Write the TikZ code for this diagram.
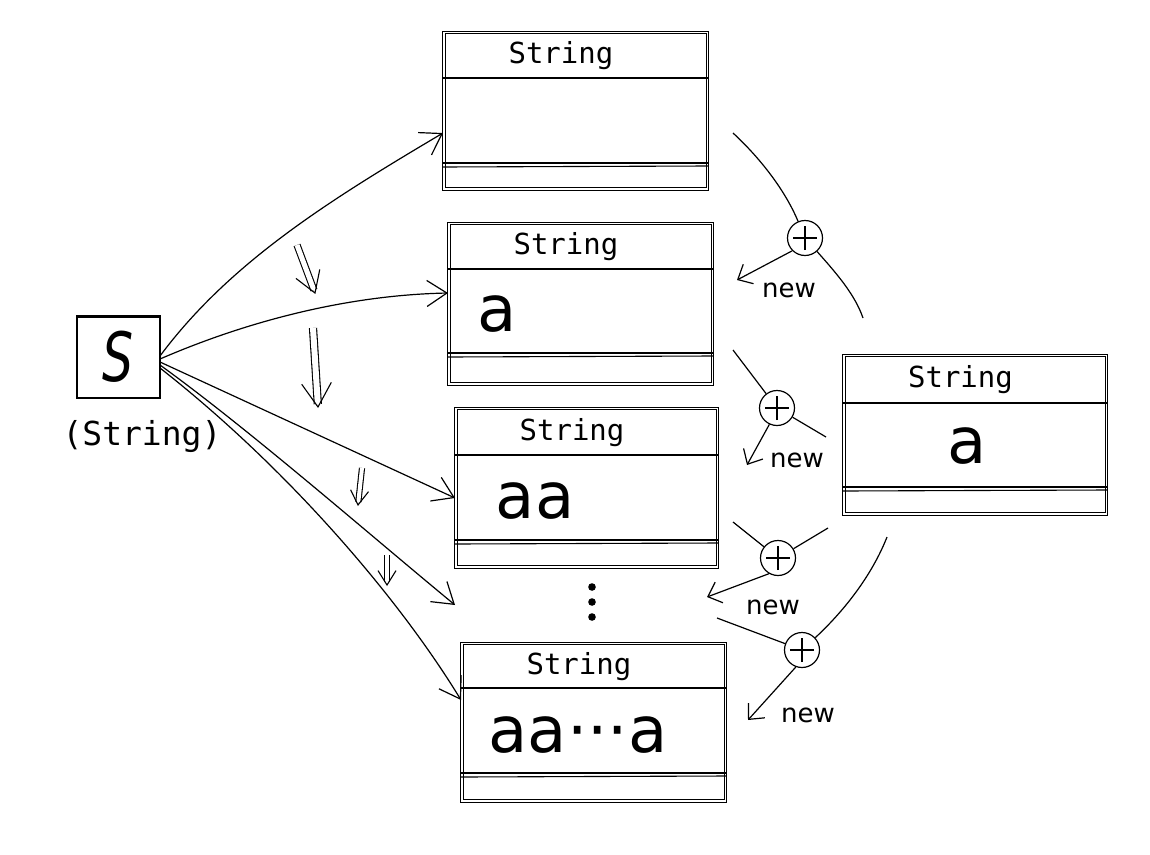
\documentclass[tikz,border=0pt]{standalone}
\usepackage{fontspec}
\setmainfont{DejaVu Sans}
\newfontfamily\monof{DejaVu Sans Mono}
\usetikzlibrary{arrows.meta,calc}
\newcommand\strbox[7]{%
  \node[sbox, minimum width={#4-#2}, minimum height={#5-#3}] (#1) at ({(#2+#4)/2},{(#3+#5)/2}) {};
  \draw[bl] (#1.north west) rectangle (#1.south east);
  \draw[bl] ([xshift=2.5pt,yshift=-2pt]#1.north west) rectangle ([xshift=-1.5pt,yshift=2.5pt]#1.south east);
  \draw[sline] (#2,#6) -- (#4,#6);
  \draw[sline] (#2,#7) -- (#4,#7);
  \draw[bl] (#2,#7+4) -- (#4,#7+3);
  \node[boxtitle] (#1t) at ({#2+0.445*(#4-#2)},{(#3+#6)/2+1}) {String};
}
% #1 start, #2 tip, #3 head arm length, #4 shaft gap
\newcommand\dblarrow[4]{%
  \draw[dshaft, double distance=#4] (#1) -- (#2);
  \draw[line width=1.1pt] ($(#2)!#3!32:(#1)$) -- (#2) -- ($(#2)!#3!-32:(#1)$);
}
\begin{document}
\begin{tikzpicture}[x=1pt,y=-1pt,
  sbox/.style={inner sep=0, rectangle},
  bl/.style={line width=1.1pt},
  sline/.style={line width=1.5pt},
  boxtitle/.style={font=\monof\fontsize{29}{29}\selectfont, inner sep=0},
  bigtxt/.style={font=\fontsize{64}{64}\selectfont, inner sep=0},
  newl/.style={font=\fontsize{26}{26}\selectfont, inner sep=0},
  arr/.style={line width=1.2pt, -{Straight Barb[length=20pt,width=26pt]}},
  arrn/.style={line width=1.2pt, -{Straight Barb[length=12pt,width=22pt]}},
  ln/.style={line width=1.2pt},
  dshaft/.style={double, line width=1.1pt, shorten >=3pt},
  plus/.style={draw, circle, minimum size=35pt, inner sep=0, line width=1.2pt,
    path picture={
      \draw[line width=1.2pt] ([yshift=-12pt]path picture bounding box.center) -- ([yshift=12pt]path picture bounding box.center);
      \draw[line width=1.2pt] ([xshift=-12pt]path picture bounding box.center) -- ([xshift=12pt]path picture bounding box.center);
    }}
]
\fill[white] (0,0) rectangle (1150,854);
\useasboundingbox (0,0) rectangle (1150,854);

% string boxes
\strbox{b1}{443}{32}{708}{190}{78}{163}
\strbox{b2}{448}{223}{713}{385}{269}{353}
\strbox{b3}{455}{408}{718}{568}{455}{540}
\strbox{b5}{461}{643}{726}{802}{688}{773}
\strbox{br}{843}{355}{1107}{515}{403}{487}

\node[bigtxt] (c2) at (497,314) {a};
\node[bigtxt] (c3) at (535,501) {aa};
\node[bigtxt] (c5) at (578,735) {aa···a};
\node[bigtxt] (cr) at (967,446) {a};

% vertical dots
\fill (592,587) circle (3.8);
\fill (592,602) circle (3.8);
\fill (592,617) circle (3.8);

% variable s
\node[draw, line width=2pt, minimum width=83pt, minimum height=82pt, inner sep=0] (S) at (118,357) {};
\draw[bl] ([xshift=2pt,yshift=-2pt]S.north west) rectangle ([xshift=-1pt,yshift=1.5pt]S.south east);
\node[font=\itshape\fontsize{68}{68}\selectfont, inner sep=0, xscale=0.72] (Sl) at (S.center) {S};
\node[font=\monof\fontsize{33}{33}\selectfont, inner sep=0] (Stype) at (142,437) {(String)};

% references from s
\coordinate (in1) at (443,133);
\coordinate (in2) at (448,293);
\coordinate (in3) at (455,498);
\coordinate (dotsin) at (455,605);
\coordinate (in5) at (461,700);
\coordinate (s1) at (160,356);
\coordinate (s2) at (160,359);
\coordinate (s3) at (160,362);
\coordinate (s4) at (160,365);
\coordinate (s5) at (160,368);
\draw[arr] (s1) .. controls (230,262) and (330,200) .. (in1);
\draw[arr] (s2) .. controls (250,320) and (350,295) .. (in2);
\draw[arr] (s3) -- (in3);
\draw[arr] (s4) .. controls (250,430) and (370,535) .. (dotsin);
\draw[arr] (s5) .. controls (290,470) and (400,600) .. (in5);

% double arrows (time order)
\coordinate (d1a) at (297,245); \coordinate (d1b) at (315,293);
\coordinate (d2a) at (313,328); \coordinate (d2b) at (318,407);
\coordinate (d3a) at (362,468); \coordinate (d3b) at (358,505);
\coordinate (d4a) at (387,555); \coordinate (d4b) at (387,585);
\dblarrow{d1a}{d1b}{24pt}{5pt}
\dblarrow{d2a}{d2b}{28pt}{6pt}
\dblarrow{d3a}{d3b}{17pt}{4pt}
\dblarrow{d4a}{d4b}{17pt}{4pt}

% concatenations
\node[plus] (p1) at (805,238) {};
\node[plus] (p2) at (777,408) {};
\node[plus] (p3) at (778,558) {};
\node[plus] (p4) at (802,650) {};

\coordinate (l1a) at (733,133);
\coordinate (l1b) at (863,318);
\draw[ln] (l1a) .. controls (760,158) and (785,190) .. (p1);
\draw[ln] (p1) .. controls (838,275) and (855,295) .. (l1b);
\coordinate (t1) at (737,280);
\draw[arrn] (p1.225) -- (t1);
\node[newl] (n1) at (789,290) {new};

\coordinate (l2a) at (733,350);
\coordinate (l2b) at (826,437);
\draw[ln] (l2a) -- (p2);
\draw[ln] (p2) -- (l2b);
\coordinate (t2) at (747,465);
\draw[arrn] (p2.245) -- (t2);
\node[newl] (n2) at (797,460) {new};

\coordinate (l3a) at (733,522);
\coordinate (l3b) at (828,528);
\draw[ln] (l3a) -- (p3);
\draw[ln] (p3) -- (l3b);
\coordinate (t3) at (707,597);
\draw[arrn] (p3.240) -- (t3);
\node[newl] (n3) at (773,607) {new};

\coordinate (l4a) at (717,618);
\coordinate (l4b) at (887,537);
\draw[ln] (l4a) -- (p4);
\draw[ln] (p4) .. controls (845,610) and (872,575) .. (l4b);
\coordinate (t4) at (748,720);
\draw[arrn] (p4.250) -- (t4);
\node[newl] (n4) at (808,715) {new};
\end{tikzpicture}
\end{document}
